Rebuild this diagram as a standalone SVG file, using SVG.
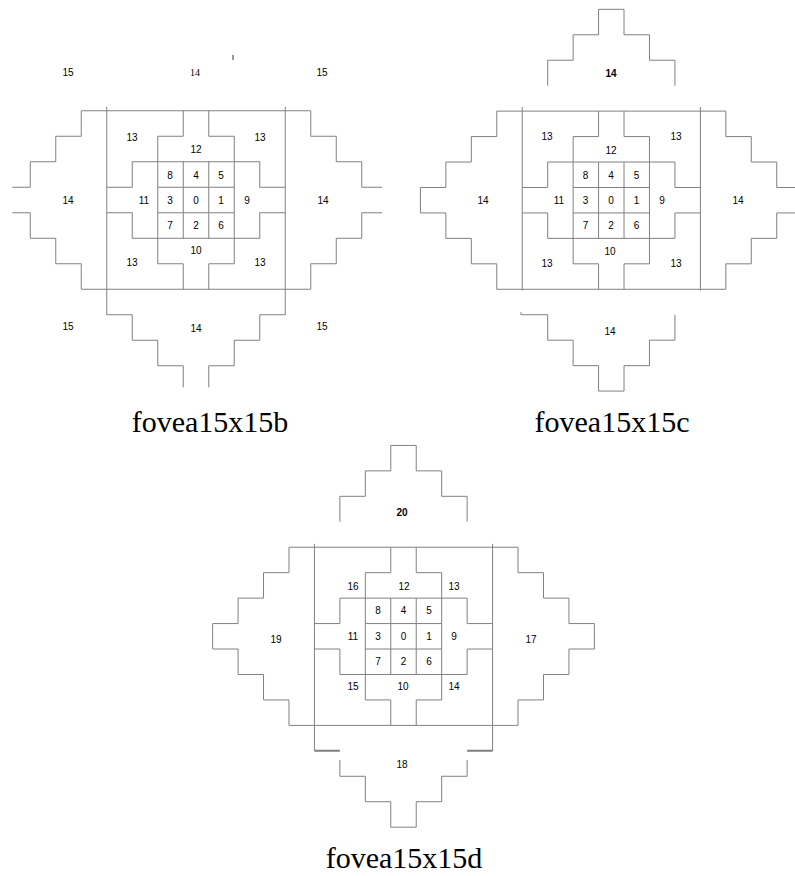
<svg xmlns="http://www.w3.org/2000/svg" width="795" height="876" viewBox="0 0 795 876">
<style>
  .ln { fill: none; stroke: #808080; stroke-width: 1; vector-effect: non-scaling-stroke; }
  .thk { fill: none; stroke: #808080; stroke-width: 2; vector-effect: non-scaling-stroke; }
  .lb { font-family: "Liberation Sans", Arial, sans-serif; font-size: 10px; fill: #000; text-anchor: middle; }
  .lbs { font-family: "Liberation Serif", "Times New Roman", serif; font-size: 10px; fill: #000; text-anchor: middle; }
  .lbb { font-family: "Liberation Sans", Arial, sans-serif; font-size: 10px; font-weight: bold; fill: #000; text-anchor: middle; }
  .cap { font-family: "Liberation Serif", "Times New Roman", serif; font-size: 30px; fill: #000; text-anchor: middle; }
</style>
<defs>
  <g id="inner">
    <path class="ln" d="M-0.5,-3.5 V-2.5 H-1.5 V2.5 H-0.5 V3.5 M0.5,-3.5 V-2.5 H1.5 V2.5 H0.5 V3.5 M-3.5,-0.5 H-2.5 V-1.5 H2.5 V-0.5 H3.5 M-3.5,0.5 H-2.5 V1.5 H2.5 V0.5 H3.5 M-1.5,-0.5 H1.5 M-1.5,0.5 H1.5 M-0.5,-1.5 V1.5 M0.5,-1.5 V1.5 M-4.5,-3.5 H4.5 M-4.5,3.5 H4.5"/>
  </g>
</defs>

<g id="fovea15x15b">
  <g id="b-lines" transform="translate(196,200) scale(25.5)">
    <use href="#inner"/>
    <path class="ln" d="M-3.5,-3.66 V4.5 H-2.5 V5.5 H-1.5 V6.5 H-0.5 V7.35 M3.5,-3.66 V4.5 H2.5 V5.5 H1.5 V6.5 H0.5 V7.35"/>
    <path class="ln" d="M-4.5,-3.5 V-2.5 H-5.5 V-1.5 H-6.5 V-0.5 H-7.2 M-7.2,0.5 H-6.5 V1.5 H-5.5 V2.5 H-4.5 V3.5 M4.5,-3.5 V-2.5 H5.5 V-1.5 H6.5 V-0.5 H7.3 M7.3,0.5 H6.5 V1.5 H5.5 V2.5 H4.5 V3.5"/>
  </g>
  <line x1="233" y1="55" x2="233" y2="60" stroke="#000" stroke-width="0.8"/>
  <g id="b-labels">
    <text class="lb" x="68" y="76">15</text>
    <text class="lb" x="322" y="76">15</text>
    <text class="lb" x="68" y="330">15</text>
    <text class="lb" x="322" y="330">15</text>
    <text class="lbs" x="195" y="76">14</text>
    <text class="lb" x="68" y="203.5">14</text>
    <text class="lb" x="323" y="203.5">14</text>
    <text class="lb" x="196" y="332">14</text>
    <text class="lb" x="132" y="140.5">13</text>
    <text class="lb" x="260" y="140.5">13</text>
    <text class="lb" x="132" y="266">13</text>
    <text class="lb" x="260" y="266">13</text>
    <text class="lb" x="196" y="153">12</text>
    <text class="lb" x="196" y="254">10</text>
    <text class="lb" x="144" y="203.5">11</text>
    <text class="lb" x="247" y="203.5">9</text>
    <text class="lb" x="170" y="178.5">8</text>
    <text class="lb" x="196" y="178.5">4</text>
    <text class="lb" x="221" y="178.5">5</text>
    <text class="lb" x="170" y="203.5">3</text>
    <text class="lb" x="196" y="203.5">0</text>
    <text class="lb" x="221" y="203.5">1</text>
    <text class="lb" x="170" y="228.5">7</text>
    <text class="lb" x="196" y="228.5">2</text>
    <text class="lb" x="221" y="228.5">6</text>
  </g>
  <text class="cap" x="210" y="432">fovea15x15b</text>
</g>

<g id="fovea15x15c">
  <g id="c-lines" transform="translate(611.3,200.2) scale(25.45)">
    <use href="#inner"/>
    <path class="ln" d="M-3.5,-3.66 V3.55 M3.5,-3.66 V3.55"/>
    <path class="ln" d="M-4.5,-3.5 V-2.5 H-5.5 V-1.5 H-6.5 V-0.5 H-7.5 V0.5 H-6.5 V1.5 H-5.5 V2.5 H-4.5 V3.5 M4.5,-3.5 V-2.5 H5.5 V-1.5 H6.5 V-0.5 H7.5 V0.5 H6.5 V1.5 H5.5 V2.5 H4.5 V3.5"/>
    <path class="ln" d="M-2.5,-4.5 V-5.5 H-1.5 V-6.5 H-0.5 V-7.5 H0.5 V-6.5 H1.5 V-5.5 H2.5 V-4.5"/>
    <path class="ln" d="M-3.55,4.4 V4.5 H-2.5 V5.5 H-1.5 V6.5 H-0.5 V7.5 H0.5 V6.5 H1.5 V5.5 H2.5 V4.5"/>
  </g>
  <g id="c-labels">
    <text class="lbb" x="611" y="76.5">14</text>
    <text class="lb" x="483" y="203.5">14</text>
    <text class="lb" x="738" y="203.5">14</text>
    <text class="lb" x="610" y="334.5">14</text>
    <text class="lb" x="547" y="140">13</text>
    <text class="lb" x="676" y="140">13</text>
    <text class="lb" x="547" y="266.5">13</text>
    <text class="lb" x="676" y="266.5">13</text>
    <text class="lb" x="611" y="153.5">12</text>
    <text class="lb" x="610" y="254.5">10</text>
    <text class="lb" x="559" y="203.5">11</text>
    <text class="lb" x="662" y="203.5">9</text>
    <text class="lb" x="585.5" y="178.5">8</text>
    <text class="lb" x="611" y="178.5">4</text>
    <text class="lb" x="636.5" y="178.5">5</text>
    <text class="lb" x="585.5" y="203.5">3</text>
    <text class="lb" x="611" y="203.5">0</text>
    <text class="lb" x="636.5" y="203.5">1</text>
    <text class="lb" x="585.5" y="229">7</text>
    <text class="lb" x="611" y="229">2</text>
    <text class="lb" x="636.5" y="229">6</text>
  </g>
  <text class="cap" x="612" y="432">fovea15x15c</text>
</g>

<g id="fovea15x15d">
  <g id="d-lines" transform="translate(403.5,636.3) scale(25.45)">
    <use href="#inner"/>
    <path class="ln" d="M-3.5,-3.63 V4.5 M3.5,-3.63 V4.5"/>
    <path class="thk" d="M-3.5,4.5 H-2.5 M3.5,4.5 H2.5"/>
    <path class="ln" d="M-4.5,-3.5 V-2.5 H-5.5 V-1.5 H-6.5 V-0.5 H-7.5 V0.5 H-6.5 V1.5 H-5.5 V2.5 H-4.5 V3.5 M4.5,-3.5 V-2.5 H5.5 V-1.5 H6.5 V-0.5 H7.5 V0.5 H6.5 V1.5 H5.5 V2.5 H4.5 V3.5"/>
    <path class="ln" d="M-2.5,-4.5 V-5.5 H-1.5 V-6.5 H-0.5 V-7.5 H0.5 V-6.5 H1.5 V-5.5 H2.5 V-4.5"/>
    <path class="ln" d="M-2.5,4.86 V5.5 H-1.5 V6.5 H-0.5 V7.5 H0.5 V6.5 H1.5 V5.5 H2.5 V4.86"/>
  </g>
  <g id="d-labels">
    <text class="lbb" x="402" y="516">20</text>
    <text class="lb" x="276" y="643">19</text>
    <text class="lb" x="531" y="643">17</text>
    <text class="lb" x="402" y="767.5">18</text>
    <text class="lb" x="353" y="589.5">16</text>
    <text class="lb" x="404" y="589.5">12</text>
    <text class="lb" x="454" y="589.5">13</text>
    <text class="lb" x="353" y="690">15</text>
    <text class="lb" x="403" y="690">10</text>
    <text class="lb" x="454" y="690">14</text>
    <text class="lb" x="353" y="639.5">11</text>
    <text class="lb" x="454" y="639.5">9</text>
    <text class="lb" x="378" y="614">8</text>
    <text class="lb" x="403.5" y="614">4</text>
    <text class="lb" x="429" y="614">5</text>
    <text class="lb" x="378" y="639.5">3</text>
    <text class="lb" x="403.5" y="639.5">0</text>
    <text class="lb" x="429" y="639.5">1</text>
    <text class="lb" x="378" y="665">7</text>
    <text class="lb" x="403.5" y="665">2</text>
    <text class="lb" x="429" y="665">6</text>
  </g>
  <text class="cap" x="404" y="868">fovea15x15d</text>
</g>
</svg>
